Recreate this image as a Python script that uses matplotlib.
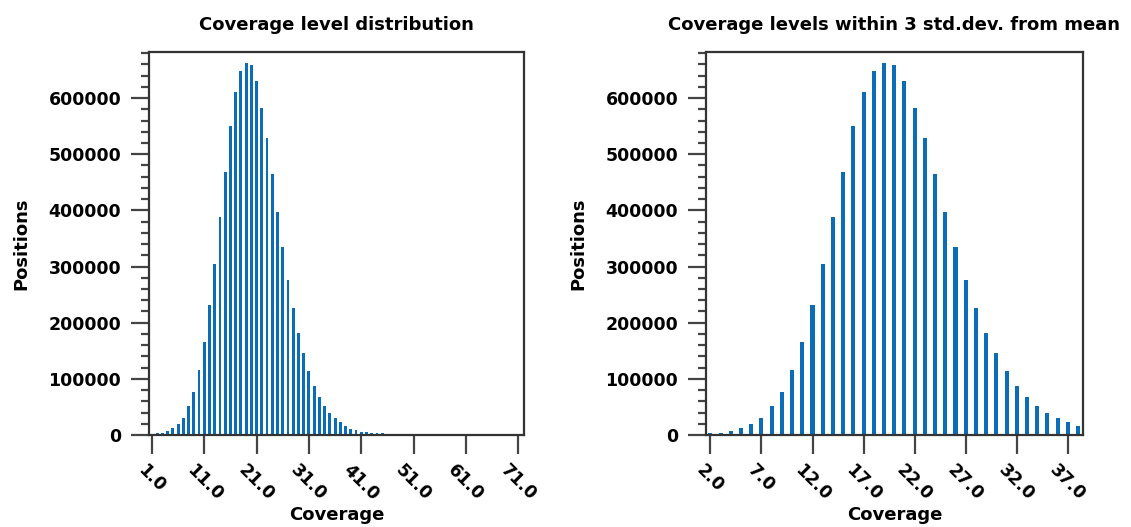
import numpy as np
import matplotlib
matplotlib.use('Agg')
import matplotlib.pyplot as plt
from matplotlib.ticker import MultipleLocator

# coverage values
cov_right = list(range(2, 39))
pos_right = [3000, 4100, 7700, 11800, 19500, 30700, 51400, 76800, 115000, 165000,
             232000, 304000, 388000, 469000, 550000, 610000, 649000, 662000, 658000, 631000,
             582000, 528000, 464000, 397000, 334000, 276000, 226000, 181000, 146000, 114000,
             87500, 66800, 51400, 39600, 29500, 22500, 16500]

cov_left = list(range(1, 48))
pos_left = [1500] + pos_right + [11000, 8000, 6000, 4700, 3800, 3200, 2700, 2300, 1900]

xt_left = [1.0, 11.0, 21.0, 31.0, 41.0, 51.0, 61.0, 71.0]
xt_right = [2.0, 7.0, 12.0, 17.0, 22.0, 27.0, 32.0, 37.0]
yt = [0, 100000, 200000, 300000, 400000, 500000, 600000]

plt.rcParams['font.family'] = 'DejaVu Sans'
plt.rcParams['font.weight'] = 'bold'

fig = plt.figure(figsize=(11.31, 5.27), dpi=100)
ax1 = fig.add_axes([0.1317, 0.1746, 0.3316, 0.7267])
ax2 = fig.add_axes([0.6243, 0.1746, 0.3329, 0.7267])

bar_col = '#0b6db7'


def style(ax, xt, title):
    for s in ax.spines.values():
        s.set_color('#333333')
        s.set_linewidth(1.6)
    ax.set_xticks(xt)
    ax.set_xticklabels(['%.1f' % v for v in xt])
    ax.set_yticks(yt)
    ax.set_yticklabels([str(v) for v in yt])
    ax.yaxis.set_minor_locator(MultipleLocator(20000))
    ax.tick_params(axis='x', which='major', length=14, width=1.6, color='#444444',
                   labelsize=12.5, labelrotation=-45, pad=5)
    ax.tick_params(axis='y', which='major', length=13, width=1.6, color='#444444',
                   labelsize=12.5, pad=7)
    ax.tick_params(axis='y', which='minor', length=6, width=1.6, color='#444444')
    for lab in ax.get_xticklabels() + ax.get_yticklabels():
        lab.set_fontweight('bold')
    ax.set_ylim(0, 682000)
    ax.set_title(title, fontsize=13, fontweight='bold', pad=16)
    ax.set_xlabel('Coverage', fontsize=13, fontweight='bold', labelpad=1)
    ax.set_ylabel('Positions', fontsize=13, fontweight='bold', labelpad=13)


ax1.bar(cov_left, pos_left, width=0.55, color=bar_col, linewidth=0)
ax1.set_xlim(0.43, 72.1)
style(ax1, xt_left, 'Coverage level distribution')

ax2.bar(cov_right, pos_right, width=0.4, color=bar_col, linewidth=0)
ax2.set_xlim(1.58, 38.44)
style(ax2, xt_right, 'Coverage levels within 3 std.dev. from mean')

fig.savefig('out.png', dpi=100)
